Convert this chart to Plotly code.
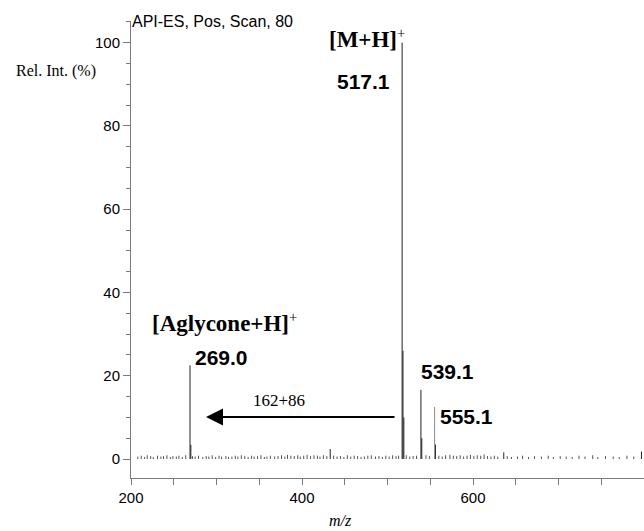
import plotly.graph_objects as go

# ---------------------------------------------------------------------------
# Dati letti dallo spettro (m/z, intensità relativa %)
# ---------------------------------------------------------------------------

peak_mz = [269.0, 270.0, 433.0, 517.1, 518.1, 519.1, 539.1, 540.1, 556.1, 636.0, 797.0]
peak_int = [22.5, 3.4, 2.4, 100.0, 26.0, 10.0, 16.6, 5.0, 3.5, 1.6, 1.8]

# picco 555.1 disegnato in grigio come nell'originale
grey_mz = [555.1]
grey_int = [12.5]

noise_mz = [
    208, 212, 216, 219, 223, 226, 231, 235, 238, 242,
    246, 249, 253, 256, 260, 264, 272, 275, 279, 284,
    288, 291, 295, 299, 303, 306, 311, 314, 318, 322,
    325, 329, 333, 337, 341, 344, 348, 352, 356, 359,
    363, 368, 372, 376, 380, 383, 387, 391, 395, 398,
    402, 406, 410, 414, 418, 421, 425, 429, 437, 441,
    445, 449, 453, 457, 461, 465, 469, 473, 477, 481,
    486, 490, 494, 498, 502, 506, 510, 513, 522, 526,
    530, 534, 545, 549, 560, 564, 568, 573, 577, 581,
    585, 589, 593, 597, 601, 605, 609, 613, 617, 621,
    625, 629, 640, 645, 652, 658, 665, 672, 680, 688,
    694, 702, 709, 716, 724, 731, 740, 746, 755, 764,
    771, 780, 788,
]
noise_int = [
    0.6, 0.8, 0.5, 0.9, 0.7, 0.5, 0.8, 0.6, 0.7, 0.9,
    0.5, 0.7, 0.6, 0.8, 0.5, 0.9, 0.7, 0.6, 0.8, 0.5,
    0.7, 0.6, 0.9, 0.5, 0.8, 0.6, 0.7, 0.5, 0.6, 0.8,
    0.6, 0.9, 0.7, 0.5, 0.8, 0.6, 0.7, 0.9, 0.5, 0.6,
    0.8, 0.6, 0.7, 0.9, 0.6, 1.0, 0.8, 0.7, 0.9, 0.6,
    0.8, 1.0, 0.7, 0.9, 0.8, 0.6, 0.9, 0.7, 0.8, 0.6,
    0.7, 0.5, 0.9, 0.6, 0.8, 0.7, 0.5, 0.6, 0.8, 0.9,
    0.6, 0.7, 0.5, 0.8, 0.6, 0.9, 0.7, 0.8, 0.9, 0.6,
    0.7, 0.8, 0.9, 0.7, 0.8, 0.6, 0.9, 1.0, 0.8, 0.7,
    0.9, 0.6, 0.8, 1.0, 0.7, 0.9, 0.8, 1.1, 0.7, 0.6,
    0.8, 0.6, 0.7, 0.5, 0.6, 0.8, 0.5, 0.7, 0.6, 0.8,
    0.5, 0.7, 0.6, 0.5, 0.8, 0.6, 0.9, 0.5, 0.7, 0.6,
    0.5, 0.8, 0.6,
]

x_ticks = [200, 400, 600]
y_ticks = [0, 20, 40, 60, 80, 100]

# ---------------------------------------------------------------------------
# Geometria (pixel -> coordinate paper/dati, per etichette e freccia)
# ---------------------------------------------------------------------------

W, H = 644, 531
L, R, T, B = 131, 0, 21, 53
X0, X1 = 200, 800
Y0, Y1 = -4.56, 105.2


def paper_x(px):
    return (px - L) / (W - L - R)


def paper_y(py):
    return (H - B - py) / (H - T - B)


def px_x(px):
    return X0 + paper_x(px) * (X1 - X0)


def px_y(py):
    return Y0 + paper_y(py) * (Y1 - Y0)


def sticks(mz, inten):
    xs, ys = [], []
    for m, i in zip(mz, inten):
        xs += [m, m, None]
        ys += [0, i, None]
    return xs, ys


fig = go.Figure()

nx, ny = sticks(noise_mz, noise_int)
fig.add_trace(go.Scatter(x=nx, y=ny, mode="lines",
                         line=dict(color="#555555", width=1), hoverinfo="skip"))
px_, py_ = sticks(peak_mz, peak_int)
fig.add_trace(go.Scatter(x=px_, y=py_, mode="lines",
                         line=dict(color="#222222", width=1), hoverinfo="skip"))
gx, gy = sticks(grey_mz, grey_int)
fig.add_trace(go.Scatter(x=gx, y=gy, mode="lines",
                         line=dict(color="#8a8a8a", width=1), hoverinfo="skip"))

serif = "Liberation Serif, Times New Roman, serif"
sans = "Liberation Sans, Arial, sans-serif"


def label(text, px, py, size, family, anchor="left"):
    fig.add_annotation(x=paper_x(px), y=paper_y(py), xref="paper", yref="paper",
                       text=text, showarrow=False, xanchor=anchor,
                       yanchor="middle",
                       font=dict(family=family, size=size, color="black"))


sup_plus = "<span style='font-size:21px'><sup>+</sup></span>"

label("API-ES, Pos, Scan, 80", 130, 21, 16, sans)
label("<b>[M+H]</b>" + sup_plus, 327, 38, 23, serif)
label("<b>517.1</b>", 335, 81, 21, sans)
label("<b>[Aglycone+H]</b>" + sup_plus, 150, 322, 23, serif)
label("<b>269.0</b>", 193, 357, 21, sans)
label("<b>539.1</b>", 419, 371, 21, sans)
label("<b>555.1</b>", 438, 416, 21, sans)
label("162+86", 279, 400, 17, serif, "center")
label("Rel. Int. (%)", 98, 71, 16, serif, "right")
label("<i>m/z</i>", 340, 520, 16, serif, "center")

# freccia 162+86
fig.add_annotation(x=px_x(206), y=px_y(417), ax=px_x(396), ay=px_y(417),
                   xref="x", yref="y", axref="x", ayref="y", text="",
                   showarrow=True, arrowhead=2, arrowsize=1.7, arrowwidth=2,
                   arrowcolor="black")

axis_col = "#7a7a7a"
fig.update_xaxes(range=[X0, X1], tickvals=x_ticks, ticks="outside", ticklen=6,
                 tickcolor=axis_col, showline=True, linecolor=axis_col,
                 showgrid=False, zeroline=False,
                 tickfont=dict(family=sans, size=15, color="black"),
                 minor=dict(dtick=50, tick0=200, ticks="outside", ticklen=6,
                            tickcolor=axis_col, showgrid=False))
fig.update_yaxes(range=[Y0, Y1], tickvals=y_ticks, ticks="outside", ticklen=7,
                 tickcolor=axis_col, showline=True, linecolor=axis_col,
                 showgrid=False, zeroline=False,
                 tickfont=dict(family=sans, size=15, color="black"),
                 minor=dict(dtick=5, tick0=0, ticks="outside", ticklen=4,
                            tickcolor=axis_col, showgrid=False))

fig.update_layout(width=W, height=H, margin=dict(l=L, r=R, t=T, b=B),
                  plot_bgcolor="white", paper_bgcolor="white",
                  showlegend=False)

# niente margine del body: la figura deve coincidere con la finestra
fig.write_html("out.html", config={"displayModeBar": False},
               post_script="document.body.style.margin='0';"
                           "document.body.style.overflow='hidden';")
